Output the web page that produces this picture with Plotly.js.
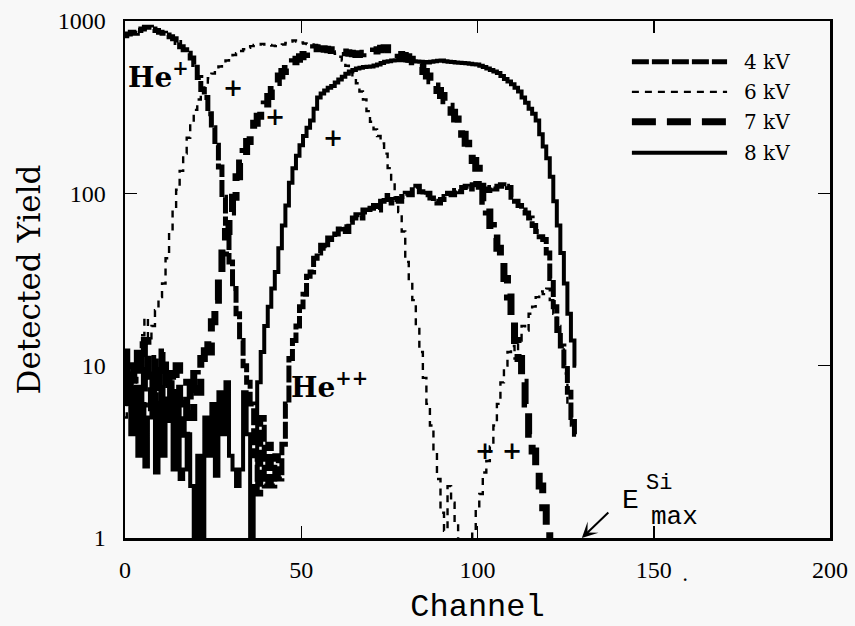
<!DOCTYPE html>
<html>
<head>
<meta charset="utf-8">
<script src="https://cdn.plot.ly/plotly-3.0.1.min.js"></script>
<style>
  html, body { margin: 0; padding: 0; background: #f8f8f8; }
  #chart { width: 855px; height: 626px; }
</style>
</head>
<body>
<div id="chart"></div>
<script>
// ---- data (channel, detected yield) ----
const ch4kV = [0,1,2,3,4,5,6,7,8,9,10,11,12,13,14,15,16,17,18,19,20,21,22,23,24,25,26,27,28,29,30,31,32,33,34,35,36,37,38,39,40,41,42,43,44,45,46,47,48,49,50,51,52,53,54,55,56,57,58,59,60,61,62,63,64,65,66,67,68,69,70,71,72,73,74,75,76,77,78,79,80,81,82,83,84,85,86,87,88,89,90,91,92,93,94,95,96,97,98,99,100,101,102,103,104,105,106,107,108,109,110,111,112,113,114,115,116,117,118,119,120,121,122,123,124,125,126,127,128];
const y4kV = [820,840,860,850,880,900,920,920,900,880,860,850,830,810,790,750,710,680,650,610,560,470,400,360,290,240,190,142,95,67,40,28,20,14,10,8,6,3,1.8,5,2,3.5,2,3,2.2,3.5,6,11,14,17,22,26,33,35,42,45,50,48,55,54,58,62,64,60,68,72,75,72,80,78,82,85,80,90,97,92,88,92,90,96,100,98,105,110,102,98,100,94,90,88,92,96,100,98,104,102,108,110,106,112,114,110,106,104,108,106,110,112,110,108,95,90,85,80,77,72,65,60,56,54,45,32,22,16,13,10,7,5,4];

const ch6kV = [0,1,2,3,4,5,6,7,8,9,10,11,12,13,14,15,16,17,18,19,20,21,22,23,24,25,26,27,28,29,30,31,32,33,34,35,36,37,38,39,40,41,42,43,44,45,46,47,48,49,50,51,52,53,54,55,56,57,58,59,60,61,62,63,64,65,66,67,68,69,70,71,72,73,74,75,76,77,78,79,80,81,82,83,84,85,86,87,88,89,90,91,92,93,94,95,96,97,98,99,100,101,102,103,104,105,106,107,108,109,110,111,112,113,114,115,116,117,118,119,120,121,122,123,124,125,126,127];
const y6kV = [5,7,4,8,11,15,19,14,17,21,25,30,42,60,80,105,135,170,210,255,305,350,390,430,465,495,520,545,570,590,615,635,650,670,685,700,715,725,730,735,730,725,720,715,720,730,745,760,770,760,750,740,735,730,725,715,705,695,680,665,645,620,590,550,510,470,435,390,350,300,260,235,215,195,170,140,115,95,78,60,40,31,24,17,12,8.5,6,4.5,3.2,2.2,1.4,1.1,2,1.6,1.2,0.8,0.5,0.5,0.9,1.1,1.5,1.8,2.4,2.8,3.4,4.5,6,8,10,12,13,11,14,17,16,20,22,25,27,26,28,24,20,17,13,9,6,4.5];

const ch7kV = [0,1,2,3,4,5,6,7,8,9,10,11,12,13,14,15,16,17,18,19,20,21,22,23,24,25,26,27,28,29,30,31,32,33,34,35,36,37,38,39,40,41,42,43,44,45,46,47,48,49,50,51,52,53,54,55,56,57,58,59,60,61,62,63,64,65,66,67,68,69,70,71,72,73,74,75,76,77,78,79,80,81,82,83,84,85,86,87,88,89,90,91,92,93,94,95,96,97,98,99,100,101,102,103,104,105,106,107,108,109,110,111,112,113,114,115,116,117,118,119,120,121];
const y7kV = [12,7,10,5,13,6,14,8,5,11,6,12,4.5,9,5,10,6,4,8,5,9,7,11,14,12,18,24,32,45,60,78,95,125,150,175,200,230,255,280,305,330,365,400,440,480,510,530,555,580,600,620,640,660,680,700,690,690,685,680,675,670,665,660,655,650,645,640,645,650,655,660,670,680,695,700,680,660,650,640,630,620,600,580,560,540,510,480,450,420,395,370,345,320,295,270,245,220,195,175,155,140,110,90,78,65,55,48,40,32,25,18,14,11,8,6,4,3.2,2.6,2,1.5,1.1,0.5];

const ch8kV = [0,1,2,3,4,5,6,7,8,9,10,11,12,13,14,15,16,17,18,19,20,21,22,23,24,25,26,27,28,29,30,31,32,33,34,35,36,37,38,39,40,41,42,43,44,45,46,47,48,49,50,51,52,53,54,55,56,57,58,59,60,61,62,63,64,65,66,67,68,69,70,71,72,73,74,75,76,77,78,79,80,81,82,83,84,85,86,87,88,89,90,91,92,93,94,95,96,97,98,99,100,101,102,103,104,105,106,107,108,109,110,111,112,113,114,115,116,117,118,119,120,121,122,123,124,125,126,127,128];
const y8kV = [6,9,4,7,3,6,2.6,5,9,2.4,6,3,5,8,2.5,6,2.2,2.5,4,2,0.5,3,0.5,5,3,6,2.3,7,4,8,3,2.5,2,2.5,7,4,0.5,2,8,12,17,22,28,35,48,65,85,115,140,165,190,215,240,265,310,360,380,395,410,420,440,458,475,495,510,520,530,535,540,542,545,552,560,570,580,585,590,592,595,592,590,588,585,582,580,578,575,580,585,588,590,585,580,578,575,572,570,568,565,562,560,550,540,530,520,510,500,480,460,445,430,410,390,360,335,310,290,265,220,187,160,125,90,65,45,30,20,14,10];

const seriesNames = ["4 kV", "6 kV", "7 kV", "8 kV"];
const xTickVals = [0, 50, 100, 150, 200];
const yTickVals = [1, 10, 100, 1000];
const yTickText = ["1", "10", "100", "1000"];

// "+" markers labelling the He+ peaks (channel, yield)
const plusX = [30.6, 42.6, 59, 102.1, 109.8];
const plusY = [414, 278, 210, 3.24, 3.24];

// ---- styles ----
const styles = {
  "4 kV": {width: 5, dash: "17px,3px"},
  "6 kV": {width: 2.4, dash: "7px,6px"},
  "7 kV": {width: 7, dash: "24px,11px"},
  "8 kV": {width: 4, dash: "solid"}
};

const serif = "DejaVu Serif, Liberation Serif, serif";
const mono = "Liberation Mono, DejaVu Sans Mono, monospace";

function trace(x, y, name) {
  return {
    x: x, y: y, name: name, type: "scatter", mode: "lines",
    line: {color: "#000", width: styles[name].width, dash: styles[name].dash, shape: "hvh"},
    showlegend: false, hoverinfo: "skip"
  };
}

const data = [
  trace(ch6kV, y6kV, "6 kV"),
  trace(ch4kV, y4kV, "4 kV"),
  trace(ch7kV, y7kV, "7 kV"),
  trace(ch8kV, y8kV, "8 kV")
];

// legend built from shapes + text (paper coords)
const legX0 = 0.719, legX1 = 0.854, legTextX = 0.875;
const legRows = [0.921, 0.863, 0.805, 0.745];
const shapes = seriesNames.map((n, i) => ({
  type: "line", xref: "paper", yref: "paper",
  x0: legX0, x1: legX1, y0: legRows[i], y1: legRows[i],
  line: {color: "#000", width: styles[n].width, dash: styles[n].dash}
}));

const annotations = [];
seriesNames.forEach((n, i) => annotations.push({
  xref: "paper", yref: "paper", x: legTextX, y: legRows[i],
  xanchor: "left", yanchor: "middle", showarrow: false,
  text: n, font: {family: serif, size: 20, color: "#000"}
}));
plusX.forEach((x, i) => annotations.push({
  x: x, y: Math.log10(plusY[i]), xref: "x", yref: "y", showarrow: false,
  text: "+", font: {family: serif, size: 24, color: "#000", weight: "bold"}
}));
annotations.push({
  x: 0.4, y: Math.log10(480), xref: "x", yref: "y", xanchor: "left", yanchor: "middle",
  showarrow: false, text: "He<sup>+</sup>",
  font: {family: serif, size: 28, color: "#000", weight: "bold"}
});
annotations.push({
  x: 46.5, y: Math.log10(7.7), xref: "x", yref: "y", xanchor: "left", yanchor: "middle",
  showarrow: false, text: "He<sup>++</sup>",
  font: {family: serif, size: 28, color: "#000", weight: "bold"}
});
// E_max^Si marker with arrow
annotations.push({
  x: 129.6, y: 0, xref: "x", yref: "y", ax: 28, ay: -27, text: "",
  showarrow: true, arrowhead: 3, arrowsize: 1.3, arrowwidth: 2, arrowcolor: "#000"
});
annotations.push({
  x: 143.5, y: Math.log10(1.66), xref: "x", yref: "y", showarrow: false,
  text: "E", font: {family: mono, size: 28, color: "#000"}
});
annotations.push({
  x: 151.5, y: Math.log10(2.085), xref: "x", yref: "y", showarrow: false,
  text: "Si", font: {family: mono, size: 22, color: "#000"}
});
annotations.push({
  x: 156, y: Math.log10(1.32), xref: "x", yref: "y", showarrow: false,
  text: "max", font: {family: mono, size: 26, color: "#000"}
});
annotations.push({
  xref: "paper", yref: "paper", x: 0.801, y: -0.097, showarrow: false,
  text: ".", font: {family: serif, size: 20, color: "#000"}
});

const layout = {
  width: 855, height: 626,
  margin: {l: 125, r: 25, t: 21, b: 88, pad: 0},
  paper_bgcolor: "#f8f8f8", plot_bgcolor: "#f8f8f8",
  showlegend: false,
  xaxis: {
    range: [0, 200], tickvals: xTickVals, ticktext: xTickVals.map(String),
    ticks: "inside", ticklen: 12, tickwidth: 1.5, tickcolor: "#000",
    showline: true, linecolor: "#000", linewidth: 2.5, mirror: "ticks",
    showgrid: false, zeroline: false, ticklabelstandoff: 9,
    tickfont: {family: "Liberation Serif", size: 24, color: "#000"},
    title: {text: "Channel", font: {family: mono, size: 32, color: "#000"}, standoff: 22}
  },
  yaxis: {
    type: "log", range: [0, 3], tickvals: yTickVals, ticktext: yTickText,
    ticks: "inside", ticklen: 12, tickwidth: 1.5, tickcolor: "#000",
    showline: true, linecolor: "#000", linewidth: 2.5, mirror: "ticks",
    showgrid: false, zeroline: false, ticklabelstandoff: 12,
    tickfont: {family: "Liberation Serif", size: 24, color: "#000"},
    title: {text: "Detected Yield", font: {family: serif, size: 31, color: "#000"}, standoff: 8}
  },
  shapes: shapes,
  annotations: annotations
};

Plotly.newPlot("chart", data, layout, {staticPlot: true, displayModeBar: false});
</script>
</body>
</html>
